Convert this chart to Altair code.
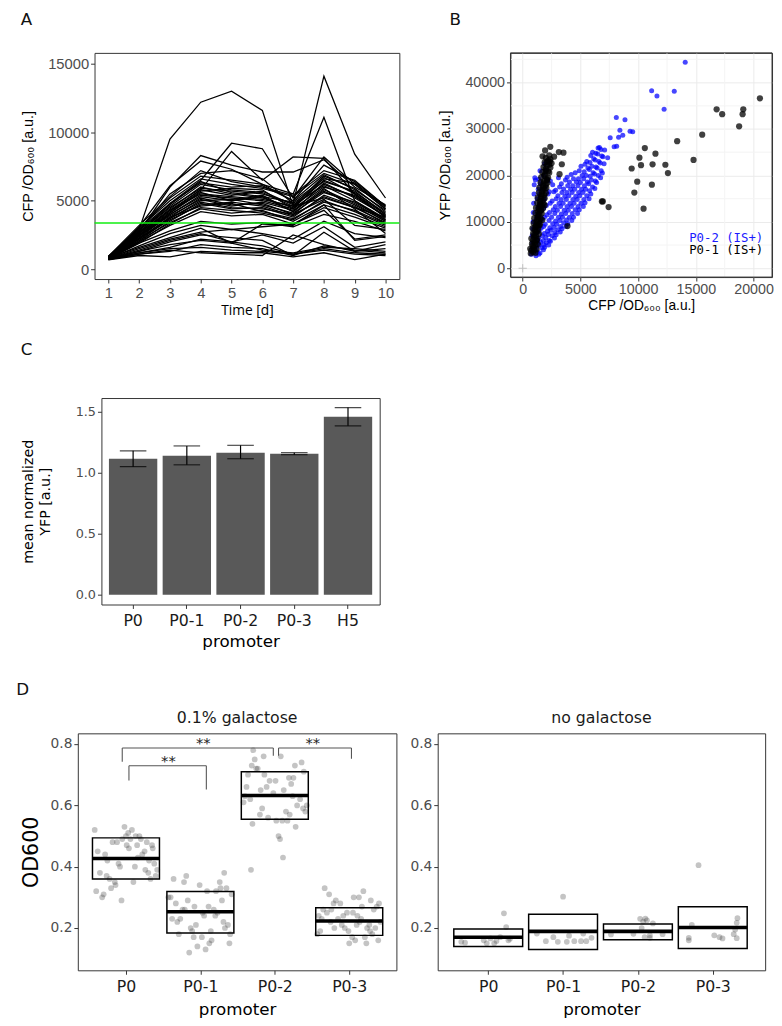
import json
import altair as alt
import pandas as pd

# ---------------- Panel A : CFP/OD600 time courses ----------------
days = [1, 2, 3, 4, 5, 6, 7, 8, 9, 10]
cfp_traces = [
    [850, 2900, 9500, 12200, 13000, 11600, 4600, 5200, 4500, 3800],
    [800, 2800, 5500, 7000, 7200, 6600, 4800, 14100, 8400, 5200],
    [900, 3000, 5200, 6800, 6500, 6200, 5500, 11100, 5000, 3600],
    [850, 2700, 6000, 8300, 7600, 7100, 7100, 8000, 6000, 4700],
    [800, 2600, 4800, 6500, 9200, 8800, 5200, 8200, 6200, 4400],
    [900, 2500, 4300, 5800, 8600, 6500, 8200, 8100, 5500, 4000],
    [820, 3100, 6100, 7900, 7300, 6200, 5000, 7600, 6400, 4600],
    [780, 2400, 4100, 5600, 5000, 5300, 4200, 6300, 5200, 3900],
    [850, 2200, 3800, 5200, 4700, 4800, 4000, 5800, 4800, 3500],
    [760, 2000, 3500, 4800, 4400, 4500, 3800, 5400, 4600, 3300],
    [900, 2700, 4600, 6200, 5800, 5600, 4600, 6800, 5900, 4200],
    [820, 2300, 4000, 5400, 5200, 5000, 4400, 6000, 5400, 3800],
    [870, 2600, 4400, 6000, 5500, 5200, 4500, 6500, 5600, 4100],
    [740, 1900, 3300, 4500, 4300, 4100, 3600, 5000, 4200, 3200],
    [800, 2100, 3700, 5000, 5100, 4700, 4100, 5600, 4900, 3600],
    [950, 3000, 5000, 6600, 6200, 5900, 5300, 7000, 6200, 4400],
    [830, 2500, 4200, 5800, 5400, 5700, 4700, 6100, 5000, 3700],
    [780, 2200, 3600, 4700, 4900, 4600, 3900, 5300, 4500, 3400],
    [880, 2800, 4700, 6400, 5600, 5300, 4900, 6600, 6300, 4500],
    [810, 2400, 3900, 5100, 4600, 4900, 4300, 5700, 4700, 3500],
    [760, 2100, 3400, 4400, 4100, 4300, 3500, 4700, 4000, 3100],
    [900, 2900, 4800, 6300, 6000, 6100, 5000, 6900, 5800, 4300],
    [840, 2600, 4300, 5500, 5300, 5100, 4600, 6200, 5300, 3900],
    [790, 2300, 3700, 4900, 4500, 4400, 4000, 5100, 3200, 2900],
    [860, 2700, 4500, 5900, 5700, 5500, 4800, 6400, 5700, 4000],
    [820, 2000, 3200, 4200, 3900, 4000, 3300, 4500, 3800, 3000],
    [880, 2500, 4000, 5300, 5000, 5400, 4200, 5900, 4400, 2600],
    [770, 2200, 3800, 4600, 4800, 4200, 3700, 4900, 4300, 3300],
    [930, 3200, 5300, 7200, 6400, 6000, 5400, 7200, 6500, 4600],
    [800, 2400, 4100, 5700, 5900, 5800, 4400, 6700, 5500, 3800],
    [780, 1900, 2800, 3500, 3300, 3400, 3100, 4000, 3500, 2800],
    [750, 1700, 2600, 3200, 2900, 3100, 3300, 4300, 2200, 2500],
    [820, 1600, 2300, 3000, 1900, 3300, 3200, 4700, 2100, 2400],
    [760, 1500, 2200, 2700, 2900, 2600, 2200, 3500, 2600, 2300],
    [720, 1200, 1600, 2200, 2000, 1700, 1100, 1500, 1200, 1100],
    [700, 1100, 1300, 1800, 1600, 1500, 1000, 1700, 1400, 1200],
    [750, 1300, 2000, 2500, 2300, 2100, 1000, 2700, 1300, 1800],
    [690, 1000, 900, 1300, 1200, 1200, 900, 1200, 700, 1100],
    [730, 1200, 1500, 1600, 1400, 1300, 1100, 1400, 1100, 1000],
    [710, 1100, 1400, 1200, 1100, 1000, 2500, 1800, 1300, 1500],
    [740, 1300, 1800, 2100, 1900, 1400, 1200, 1600, 1500, 1300],
    [760, 1400, 2100, 2600, 2000, 2500, 1900, 3100, 1600, 2000],
]
cfp_threshold = 3370

# ---------------- Panel B : YFP vs CFP scatter ----------------
p02_cfp = [750, 800, 850, 820, 880, 900, 920, 950, 980, 1000, 1050, 1100,
           1150, 1250, 1200, 1300, 1180, 1260, 1220, 1300, 1250, 1350, 1400, 1500,
           1500, 1650, 1550, 1700, 1600, 1680, 1620, 1750, 1700, 1800, 1900,
           1900, 2050, 2000, 2150, 1950, 2100, 2050, 2200, 2150,
           2400, 2550, 2450, 2600, 2500, 2650, 2550, 2700, 2600,
           2900, 3050, 2950, 3100, 3000, 3150, 3050, 3200, 3100,
           3400, 3550, 3450, 3600, 3500, 3650, 3550, 3700,
           3900, 4050, 3950, 4100, 4000, 4150, 4050, 4200,
           4400, 4550, 4450, 4600, 4500, 4650, 4550,
           4900, 5050, 4950, 5100, 5000, 5150, 5050,
           5400, 5550, 5450, 5600, 5500, 5650, 5550,
           5900, 6050, 5950, 6100, 6000, 6150, 6050,
           6400, 6550, 6450, 6600, 6500, 6650,
           6900, 7050, 6950, 7100,
           1400, 1450, 1380, 1420, 1460, 1400, 1480, 1440, 1520,
           1800, 1850, 1780, 1870, 1820, 1880, 1830, 1900, 1950, 2000,
           2250, 2300, 2220, 2350, 2280, 2320, 2380, 2300, 2400,
           2750, 2800, 2720, 2850, 2780, 2830, 2900, 2850,
           3250, 3300, 3220, 3350, 3280, 3330, 3400, 3350,
           3750, 3800, 3720, 3850, 3780, 3830, 3900, 3850,
           4250, 4300, 4220, 4350, 4280, 4330, 4400,
           4750, 4800, 4720, 4850, 4780, 4830, 4900,
           5250, 5300, 5220, 5350, 5280, 5330, 5400,
           5750, 5800, 5720, 5850, 5780, 5830, 5900,
           6250, 6300, 6220, 6350, 6280, 6330,
           6750, 6800, 6720, 6850, 6780,
           14080, 11170, 13130, 11630, 12250, 8110, 8860, 8420, 9300, 9530,
           8310, 8670, 7580, 7920, 8140, 6530, 7360]
p02_yfp = [3000, 4200, 5500, 7000, 8500, 10000, 12000, 14000, 16000, 18000, 19500, 19000,
           2700, 3600, 4600, 6000, 7500, 9000, 11000, 13000, 15000, 17000, 19200, 21000,
           3300, 4400, 5600, 7000, 8600, 10500, 12600, 14600, 17000, 20000, 22500,
           4500, 5500, 6600, 8000, 9500, 11500, 13500, 16000, 19000,
           5800, 7000, 8200, 9600, 11000, 12600, 14500, 16500, 18000,
           7200, 8300, 9500, 11000, 12500, 14000, 15600, 17500, 19500,
           8500, 9800, 11000, 12500, 14000, 15500, 17100, 19000,
           9600, 11000, 12500, 14000, 15600, 17000, 18600, 20200,
           11000, 12600, 14000, 15500, 17000, 18600, 20600,
           12600, 14000, 15600, 17000, 18500, 20000, 22000,
           14100, 15600, 17000, 18600, 20000, 21600, 23000,
           16000, 17500, 19000, 20600, 22000, 23600, 25000,
           18500, 20000, 21600, 23000, 24600, 26000,
           20500, 22500, 24000, 25500,
           3000, 5000, 6500, 8000, 9800, 11800, 13800, 16000, 18200,
           4000, 5000, 6000, 7500, 9000, 11000, 13000, 15000, 17500, 21000,
           5000, 6000, 7300, 8700, 10300, 12000, 14000, 16500, 18800,
           6500, 7700, 8800, 10200, 11800, 13300, 15000, 16800,
           7800, 9000, 10300, 11700, 13300, 14800, 16300, 18200,
           9000, 10400, 11800, 13300, 14800, 16300, 17800, 19600,
           10300, 11800, 13300, 14800, 16300, 17800, 19300,
           11800, 13300, 14800, 16300, 17800, 19300, 21000,
           13300, 14800, 16300, 17800, 19300, 20800, 22400,
           15000, 16700, 18200, 19800, 21300, 22800, 24300,
           17200, 18800, 20300, 21800, 23300, 24800,
           19500, 21000, 22700, 24200, 25600,
           44400, 38230, 38160, 37090, 34250, 32480, 31990, 29720, 29500, 29400,
           28230, 28660, 28100, 26170, 26300, 25890, 23830]
p01_cfp = [700, 900, 1100, 650, 950, 1200, 800, 1050, 1300, 750, 1000, 1250,
           900, 1150, 1400, 850, 1100, 1350, 950, 1200, 1500, 1000, 1300, 1550,
           1100, 1350, 1650, 1150, 1450, 1750, 1250, 1500, 1800, 1300, 1600, 1900,
           1400, 1700, 2000, 1450, 1750, 2050, 1550, 1850, 2150, 1600, 1900, 2200,
           1700, 2000, 2300, 1800, 2100, 2400, 1900, 2200, 2500, 2000, 2300,
           1600, 1900, 1450, 1700, 1200, 2100, 2350,
           750, 1000, 850, 1100, 900, 1150, 1000, 1250, 1050, 1300, 1150, 1400,
           1250, 1450, 1350, 1550, 1400, 1650, 1500, 1750, 1550, 1850, 1650, 1900,
           1750, 2000, 1800, 2100, 1900, 2200, 2000, 2300, 2100, 2400,
           2390, 1940, 3130, 3530, 1720, 2720, 3390, 3190,
           20550, 16800, 17280, 19110, 19050, 18750, 15550, 13380, 14800, 10580,
           11500, 10110, 10250, 11250, 12360, 9440, 12580, 9920, 11190, 9670,
           6860, 6940, 7440, 10470, 3880]
p01_yfp = [3200, 3500, 3300, 4200, 4500, 4100, 5300, 5600, 5200, 6400, 6700, 6300,
           7500, 7800, 7400, 8600, 8900, 8500, 9700, 10000, 9600, 10800, 11100, 10700,
           11900, 12200, 11800, 13000, 13300, 12900, 14100, 14400, 14000, 15200, 15500, 15100,
           16300, 16600, 16200, 17400, 17700, 17300, 18500, 18800, 18400, 19600, 19900, 19500,
           20700, 21000, 20600, 21800, 22100, 21700, 22800, 23200, 22600, 23800, 24300,
           12500, 13600, 9200, 10400, 6000, 19200, 23000,
           3800, 3900, 4800, 5000, 6000, 6900, 7200, 8000, 8200, 9200, 9300, 10200,
           10500, 11400, 11600, 12400, 12800, 13500, 13800, 14700, 15000, 15800, 16000, 17000,
           17200, 18000, 18300, 19000, 20200, 20900, 21400, 22300, 22900, 23500,
           26170, 25390, 25040, 24890, 24110, 24040, 22410, 20280,
           36600, 34250, 33190, 34250, 33190, 30570, 28790, 27380, 23340, 25890,
           24680, 23830, 22200, 22400, 22300, 21490, 20500, 18650, 18010, 16310,
           14400, 14400, 13190, 12840, 9080]
b_major_x = [0, 5000, 10000, 15000, 20000]
b_major_y = [0, 10000, 20000, 30000, 40000]
b_minor_x = [2500, 7500, 12500, 17500]
b_minor_y = [5000, 15000, 25000, 35000, 45000]
b_legend_labels = ["P0-2 (IS+)", "P0-1 (IS+)"]
b_legend_colors = ["#1a1aff", "#000000"]

# ---------------- Panel C : mean normalized YFP ----------------
promoters_c = ["P0", "P0-1", "P0-2", "P0-3", "H5"]
yfp_mean = [1.115, 1.14, 1.165, 1.155, 1.46]
yfp_low = [1.05, 1.065, 1.115, 1.148, 1.385]
yfp_high = [1.18, 1.22, 1.225, 1.165, 1.535]

# ---------------- Panel D : OD600 per promoter ----------------
promoters_d = ["P0", "P0-1", "P0-2", "P0-3"]
gal_jitter = {
    "P0": [-0.40, -0.35, -0.30, -0.28, -0.22, -0.18, -0.15, -0.10, -0.05, 0.00, 0.04, 0.08, 0.12, 0.15, 0.20,
           0.25, 0.30, 0.35, 0.40, 0.42, -0.38, -0.32, -0.25, -0.20, -0.12, -0.08, -0.02, 0.03, 0.10, 0.18,
           0.22, 0.28, 0.33, 0.38, -0.42, -0.26, -0.14, 0.06, 0.16, 0.26, 0.36, -0.06, 0.01, 0.13, 0.31],
    "P0-1": [0.12, -0.31, 0.27, -0.08, 0.40, -0.22, 0.05, -0.40, 0.33, -0.15, 0.18, -0.36, 0.02, 0.29, -0.27,
             0.09, -0.04, 0.37, -0.19, 0.23, -0.11, 0.42, -0.33, 0.15, -0.01, 0.31, -0.24, 0.07, -0.43, 0.20,
             -0.13, 0.35, -0.29, 0.11, 0.26, -0.06, 0.39, -0.17, 0.03, -0.38, 0.21, -0.09, 0.32, -0.21, 0.14],
    "P0-2": [-0.32, 0.30, -0.25, 0.17, -0.38, 0.08, 0.41, -0.14, 0.24, -0.30, 0.01, 0.36, -0.20, 0.12, -0.42,
             0.27, -0.09, 0.19, -0.33, 0.05, 0.39, -0.17, 0.22, -0.27, 0.10, -0.02, 0.11, -0.36, 0.15, -0.11,
             0.28, -0.23, 0.43, -0.07, 0.07, -0.40, 0.20, -0.15, 0.34, -0.29, 0.02, 0.25, -0.19, 0.38, -0.31],
    "P0-3": [0.35, -0.12, 0.21, -0.41, 0.06, 0.28, -0.24, 0.14, -0.33, 0.39, -0.03, 0.10, -0.18, 0.31, -0.37,
             0.17, 0.00, -0.27, 0.24, -0.08, 0.42, -0.21, 0.04, 0.33, -0.39, 0.13, -0.15, 0.27, -0.30, 0.08,
             0.37, -0.06, 0.19, -0.25, -0.43, 0.11, 0.29, -0.10, 0.23, -0.35, 0.16, -0.01, 0.40, -0.20, 0.05],
}
gal_od = {
    "P0": [0.32, 0.38, 0.31, 0.44, 0.36, 0.48, 0.35, 0.41, 0.49, 0.50, 0.46, 0.52, 0.40, 0.47, 0.49,
           0.45, 0.38, 0.47, 0.37, 0.39, 0.45, 0.30, 0.42, 0.33, 0.48, 0.40, 0.53, 0.51, 0.35, 0.50,
           0.44, 0.48, 0.36, 0.41, 0.52, 0.37, 0.34, 0.49, 0.43, 0.39, 0.46, 0.29, 0.47, 0.50, 0.42],
    "P0-1": [0.15, 0.22, 0.33, 0.27, 0.18, 0.35, 0.24, 0.30, 0.20, 0.12, 0.26, 0.36, 0.17, 0.29, 0.23,
             0.32, 0.14, 0.21, 0.37, 0.25, 0.19, 0.31, 0.28, 0.16, 0.34, 0.22, 0.26, 0.13, 0.30, 0.24,
             0.20, 0.33, 0.18, 0.27, 0.35, 0.21, 0.15, 0.29, 0.25, 0.23, 0.32, 0.17, 0.38, 0.26, 0.19],
    "P0-2": [0.39, 0.60, 0.72, 0.55, 0.66, 0.76, 0.58, 0.70, 0.63, 0.54, 0.68, 0.74, 0.57, 0.65, 0.61,
             0.73, 0.56, 0.69, 0.62, 0.50, 0.71, 0.59, 0.67, 0.75, 0.55, 0.64, 0.43, 0.70, 0.58, 0.66,
             0.53, 0.72, 0.60, 0.68, 0.49, 0.63, 0.57, 0.76, 0.62, 0.78, 0.55, 0.69, 0.65, 0.59, 0.73],
    "P0-3": [0.20, 0.28, 0.17, 0.24, 0.30, 0.19, 0.26, 0.22, 0.33, 0.16, 0.25, 0.21, 0.29, 0.18, 0.23,
             0.27, 0.15, 0.31, 0.20, 0.24, 0.22, 0.28, 0.17, 0.26, 0.19, 0.30, 0.23, 0.21, 0.25, 0.16,
             0.27, 0.20, 0.32, 0.22, 0.18, 0.24, 0.29, 0.21, 0.15, 0.26, 0.23, 0.19, 0.28, 0.20, 0.25],
}
nogal_jitter = {
    "P0": [-0.36, -0.31, -0.06, 0.03, 0.11, 0.21, 0.24, 0.27, -0.02, 0.08, 0.16, 0.29],
    "P0-1": [0.00, -0.35, -0.23, -0.13, 0.05, 0.08, 0.15, 0.27, 0.24, 0.31, 0.38, -0.07],
    "P0-2": [-0.36, -0.06, 0.07, 0.10, 0.12, 0.03, 0.09, 0.16, 0.20, 0.33, 0.16, 0.05],
    "P0-3": [-0.19, -0.32, -0.32, -0.28, 0.02, 0.09, 0.13, 0.28, 0.32, 0.33, 0.32, 0.30],
}
nogal_od = {
    "P0": [0.155, 0.152, 0.16, 0.166, 0.158, 0.248, 0.203, 0.16, 0.15, 0.15, 0.17, 0.165],
    "P0-1": [0.302, 0.182, 0.157, 0.17, 0.155, 0.175, 0.157, 0.182, 0.157, 0.157, 0.168, 0.155],
    "P0-2": [0.179, 0.181, 0.221, 0.231, 0.225, 0.23, 0.17, 0.168, 0.215, 0.18, 0.176, 0.2],
    "P0-3": [0.405, 0.168, 0.16, 0.21, 0.176, 0.17, 0.166, 0.18, 0.167, 0.232, 0.217, 0.195],
}
gal_box_low = [0.360, 0.184, 0.555, 0.176]
gal_box_mid = [0.427, 0.253, 0.632, 0.223]
gal_box_high = [0.494, 0.319, 0.710, 0.266]
nogal_box_low = [0.140, 0.130, 0.162, 0.133]
nogal_box_mid = [0.170, 0.189, 0.189, 0.202]
nogal_box_high = [0.197, 0.245, 0.213, 0.269]
bracket_x_left = [0.95, 1.04, 3.05]
bracket_x_right = [2.98, 2.08, 4.03]
bracket_y_top = [0.787, 0.729, 0.787]
bracket_y_left_end = [0.742, 0.681, 0.762]
bracket_y_right_end = [0.762, 0.652, 0.752]
bracket_label = ["**", "**", "**"]
bracket_label_x = [2.04, 1.57, 3.51]
bracket_label_y = [0.803, 0.745, 0.803]

# ---------------- styling ----------------
F_AB = "Liberation Sans"
F_CD = "DejaVu Sans"
LABEL_GREY = "#4d4d4d"
TICK = "#333333"


def panel_title(text, offset, dx=0):
    return alt.TitleParams(text, anchor="start", frame="bounds", fontSize=17, font=F_CD,
                           fontWeight="normal", color="#111111", offset=offset, dx=dx)


def spacer():
    return alt.Chart(pd.DataFrame({"k": [0]})).mark_point(opacity=0, size=1).encode(
        x=alt.value(0.5), y=alt.value(0.5)).properties(width=1, height=1,
                                                       view=alt.ViewBackground(stroke="transparent"))


# ---------- A ----------
a_rows = [{"trace": i, "day": d, "cfp": v} for i, tr in enumerate(cfp_traces) for d, v in zip(days, tr)]
a_df = pd.DataFrame(a_rows)
a_x = alt.X("day:Q", scale=alt.Scale(domain=[0.55, 10.45], nice=False, zero=False),
            axis=alt.Axis(values=days, format="d", title="Time [d]", titleFont="Open Sans", titleFontSize=14,
                          labelFont=F_AB, labelFontSize=15, labelPadding=3, titlePadding=3, labelFlush=False))
a_y = alt.Y("cfp:Q", scale=alt.Scale(domain=[-720, 15800], nice=False, zero=False),
            axis=alt.Axis(values=[0, 5000, 10000, 15000], format="d", title="CFP /OD₆₀₀ [a.u.]",
                          titleFont=F_AB, titleFontSize=14.5, labelFont=F_AB, labelFontSize=15,
                          minExtent=48, maxExtent=48, titlePadding=12))
a_lines = alt.Chart(a_df).mark_line(color="black", strokeWidth=1.3, clip=True).encode(
    x=a_x, y=a_y, detail="trace:N")
a_thr = alt.Chart(pd.DataFrame({"thr": [cfp_threshold]})).mark_rule(color="#11ee11", strokeWidth=1.6).encode(
    y="thr:Q")
chart_a = alt.layer(a_lines, a_thr).properties(width=310, height=230, title=panel_title("A", 24))

# ---------- B ----------
B_W, B_H = 266, 228
b_blue = pd.DataFrame({"cfp": p02_cfp, "yfp": p02_yfp})
b_black = pd.DataFrame({"cfp": p01_cfp, "yfp": p01_yfp})
b_xs = alt.Scale(domain=[-1060, 21600], nice=False, zero=False)
b_ys = alt.Scale(domain=[-1900, 46400], nice=False, zero=False)
b_x = alt.X("cfp:Q", scale=b_xs,
            axis=alt.Axis(values=b_major_x, format="d", title="CFP /OD₆₀₀ [a.u.]", grid=True, gridColor="#ebebeb",
                          titleFont=F_AB, titleFontSize=14, labelFont=F_AB, labelFontSize=14.5,
                          labelPadding=2, titlePadding=2, labelFlush=False))
b_y = alt.Y("yfp:Q", scale=b_ys,
            axis=alt.Axis(values=b_major_y, format="d", title="YFP /OD₆₀₀ [a.u.]", grid=True, gridColor="#ebebeb",
                          titleFont=F_AB, titleFontSize=14.5, labelFont=F_AB, labelFontSize=14.5,
                          minExtent=48, maxExtent=48, titlePadding=11))
b_minx = alt.Chart(pd.DataFrame({"v": b_minor_x})).mark_rule(color="#f4f4f4", strokeWidth=1).encode(
    x=alt.X("v:Q", scale=b_xs))
b_miny = alt.Chart(pd.DataFrame({"v": b_minor_y})).mark_rule(color="#f4f4f4", strokeWidth=1).encode(
    y=alt.Y("v:Q", scale=b_ys))
b_pts_blue = alt.Chart(b_blue).mark_circle(color="#0000ff", opacity=0.72, size=26, clip=True).encode(x=b_x, y=b_y)
b_pts_black = alt.Chart(b_black).mark_circle(color="#000000", opacity=0.75, size=40, clip=True).encode(
    x=alt.X("cfp:Q", scale=b_xs), y=alt.Y("yfp:Q", scale=b_ys))
b_origin = alt.Chart(pd.DataFrame({"c": [0], "y": [0]})).mark_point(
    shape="M-1,0H1M0,-1V1", filled=False, stroke="#aaaaaa", strokeWidth=1, size=70).encode(
    x=alt.X("c:Q", scale=b_xs), y=alt.Y("y:Q", scale=b_ys))
b_leg1 = alt.Chart(pd.DataFrame({"t": [b_legend_labels[0]]})).mark_text(
    align="right", baseline="middle", font="DejaVu Sans Mono", fontSize=12.5, color=b_legend_colors[0]).encode(
    text="t:N", x=alt.value(B_W - 9), y=alt.value(188))
b_leg2 = alt.Chart(pd.DataFrame({"t": [b_legend_labels[1]]})).mark_text(
    align="right", baseline="middle", font="DejaVu Sans Mono", fontSize=12.5, color=b_legend_colors[1]).encode(
    text="t:N", x=alt.value(B_W - 9), y=alt.value(201))
b_frame = alt.Chart(pd.DataFrame({"k": [0]})).mark_rect(fillOpacity=0, stroke="#333333", strokeWidth=1).encode(
    x=alt.value(0), x2=alt.value(B_W), y=alt.value(0), y2=alt.value(B_H))
chart_b = alt.layer(b_minx, b_miny, b_pts_blue, b_pts_black, b_origin, b_leg1, b_leg2, b_frame).properties(
    width=B_W, height=B_H, title=panel_title("B", 24, dx=12))

# ---------- C ----------
c_df = pd.DataFrame({"promoter": promoters_c, "mean": yfp_mean, "low": yfp_low, "high": yfp_high})
c_x = alt.X("promoter:N", sort=promoters_c, scale=alt.Scale(paddingInner=0.1, paddingOuter=0.14),
            axis=alt.Axis(title="promoter", labelAngle=0, labelFont=F_CD, labelFontSize=16, labelColor="#1a1a1a",
                          titleFont=F_CD, titleFontSize=17, labelPadding=4, titlePadding=6))
c_ys = alt.Scale(domain=[-0.081, 1.613], nice=False, zero=False)
c_y = alt.Y("mean:Q", scale=c_ys,
            axis=alt.Axis(values=[0, 0.5, 1.0, 1.5], format=".1f", title=["mean normalized", "YFP [a.u.]"],
                          titleFont=F_CD, titleFontSize=14.5, titleLineHeight=17, labelFont=F_CD,
                          labelFontSize=13, minExtent=30, maxExtent=30, titlePadding=20))
c_bars = alt.Chart(c_df).mark_bar(color="#595959").encode(x=c_x, y=c_y)
c_err = alt.Chart(c_df).mark_rule(color="black", strokeWidth=1.2).encode(
    x=alt.X("promoter:N", sort=promoters_c), y=alt.Y("low:Q", scale=c_ys), y2="high:Q")
c_cap_lo = alt.Chart(c_df).mark_tick(color="black", thickness=1.2, size=27).encode(
    x=alt.X("promoter:N", sort=promoters_c), y=alt.Y("low:Q", scale=c_ys))
c_cap_hi = alt.Chart(c_df).mark_tick(color="black", thickness=1.2, size=27).encode(
    x=alt.X("promoter:N", sort=promoters_c), y=alt.Y("high:Q", scale=c_ys))
chart_c = alt.layer(c_bars, c_err, c_cap_lo, c_cap_hi).properties(width=283, height=210,
                                                                  title=panel_title("C", 40))


# ---------- D ----------
def panel_d(jitter, od, box_low, box_mid, box_high, x_domain, width, facet_title, y_title, half,
            with_brackets):
    rows = []
    for i, p in enumerate(promoters_d):
        for j, v in zip(jitter[p], od[p]):
            rows.append({"promoter": p, "xpos": i + 1 + j, "od": v})
    pts = pd.DataFrame(rows)
    boxes = pd.DataFrame({"promoter": promoters_d, "pos": list(range(1, len(promoters_d) + 1)),
                          "low": box_low, "mid": box_mid, "high": box_high})
    xs = alt.Scale(domain=x_domain, nice=False, zero=False)
    ys = alt.Scale(domain=[0.062, 0.835], nice=False, zero=False)
    label_expr = json.dumps([""] + promoters_d) + "[datum.value]"
    yaxis_kwargs = dict(values=[0.2, 0.4, 0.6, 0.8], format=".1f", labelFont=F_CD, labelFontSize=14,
                        minExtent=30, maxExtent=30, titleFont=F_CD, titleFontSize=21, titlePadding=7)
    if y_title:
        yaxis_kwargs["title"] = y_title
    else:
        yaxis_kwargs["title"] = None
    x = alt.X("xpos:Q", scale=xs,
              axis=alt.Axis(values=[1, 2, 3, 4], labelExpr=label_expr, title="promoter", labelFont=F_CD,
                            labelFontSize=16, labelColor="#1a1a1a", titleFont=F_CD, titleFontSize=17,
                            labelPadding=5, titlePadding=7, labelFlush=False))
    y = alt.Y("od:Q", scale=ys, axis=alt.Axis(**yaxis_kwargs))
    layers = []
    layers.append(alt.Chart(pts).mark_circle(color="#3a3a3a", opacity=0.3, size=34).encode(x=x, y=y))
    bx = alt.Chart(boxes).transform_calculate(left=f"datum.pos - {half}", right=f"datum.pos + {half}")
    layers.append(bx.mark_rect(fillOpacity=0, stroke="black", strokeWidth=1.5).encode(
        x=alt.X("left:Q", scale=xs), x2="right:Q", y=alt.Y("low:Q", scale=ys), y2="high:Q"))
    layers.append(bx.mark_rule(color="black", strokeWidth=3.6).encode(
        x=alt.X("left:Q", scale=xs), x2="right:Q", y=alt.Y("mid:Q", scale=ys)))
    if with_brackets:
        seg = []
        for xl, xr, yt, yl, yr in zip(bracket_x_left, bracket_x_right, bracket_y_top,
                                      bracket_y_left_end, bracket_y_right_end):
            seg.append({"x": xl, "x2": xl, "y": yl, "y2": yt})
            seg.append({"x": xl, "x2": xr, "y": yt, "y2": yt})
            seg.append({"x": xr, "x2": xr, "y": yr, "y2": yt})
        layers.append(alt.Chart(pd.DataFrame(seg)).mark_rule(color="#555555", strokeWidth=1.1).encode(
            x=alt.X("x:Q", scale=xs), x2="x2:Q", y=alt.Y("y:Q", scale=ys), y2="y2:Q"))
        lab = pd.DataFrame({"t": bracket_label, "x": bracket_label_x, "y": bracket_label_y})
        layers.append(alt.Chart(lab).mark_text(font=F_CD, fontSize=15, baseline="middle", color="#222222").encode(
            x=alt.X("x:Q", scale=xs), y=alt.Y("y:Q", scale=ys), text="t:N"))
    return alt.layer(*layers).properties(
        width=width, height=241,
        title=alt.TitleParams(facet_title, anchor="middle", frame="group", fontSize=16, font=F_CD,
                              fontWeight="normal", color="#1a1a1a", offset=8))


chart_d1 = panel_d(gal_jitter, gal_od, gal_box_low, gal_box_mid, gal_box_high, [0.353, 4.634], 324,
                   "0.1% galactose", "OD600", 0.45, True)
chart_d2 = panel_d(nogal_jitter, nogal_od, nogal_box_low, nogal_box_mid, nogal_box_high, [0.325, 4.70], 333,
                   "no galactose", "", 0.46, False)

row1 = alt.hconcat(spacer(), alt.hconcat(chart_a, chart_b, spacing=36), spacing=1)
row2 = alt.hconcat(spacer(), chart_c, spacing=1)
row3 = alt.hconcat(spacer(), alt.hconcat(chart_d1, chart_d2, spacing=10), spacing=1).properties(
    title=alt.TitleParams("D", anchor="start", fontSize=17, font=F_CD, fontWeight="normal",
                          color="#111111", offset=10))
upper = alt.vconcat(row1, row2, spacing=22)
chart = alt.vconcat(upper, row3, spacing=31).properties(
    padding={"left": 8, "top": -6, "right": 0, "bottom": 0})

chart = chart.configure_view(stroke="#333333", strokeWidth=1).configure_axis(
    domain=False, tickColor=TICK, tickSize=4, tickWidth=1, labelColor=LABEL_GREY, titleColor="#000000",
    titleFontWeight="normal", grid=False).configure_title(fontWeight="normal")

chart.save("out.html", embed_options={"renderer": "svg", "actions": False})
